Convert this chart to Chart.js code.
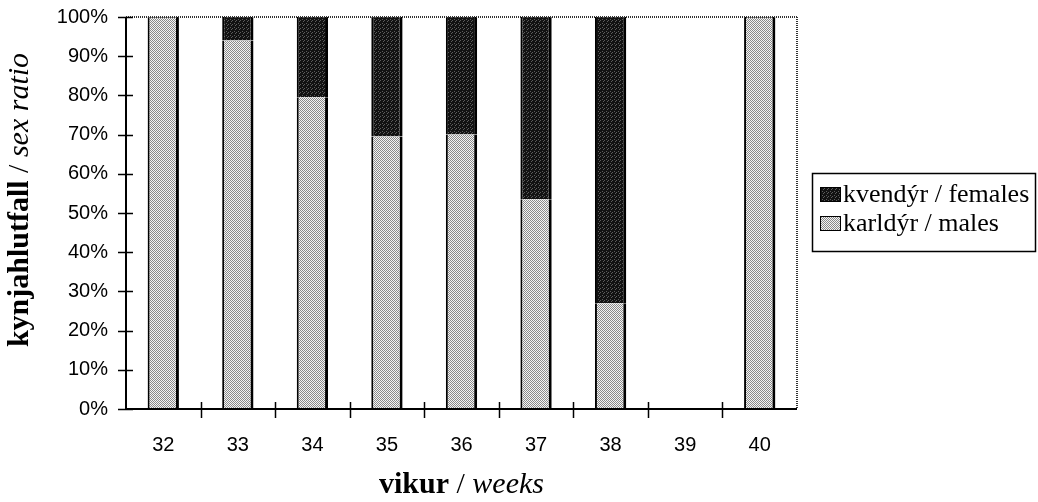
<!DOCTYPE html>
<html>
<head>
<meta charset="utf-8">
<script src="https://cdn.jsdelivr.net/npm/chart.js@4/dist/chart.umd.min.js"></script>
<style>
  html, body { margin: 0; padding: 0; background: #fff; }
</style>
</head>
<body>
<canvas id="sexRatio" width="1038" height="502"></canvas>
<script>
// data
const weeks = ['32', '33', '34', '35', '36', '37', '38', '39', '40'];
const males = [100, 94, 79.5, 69.5, 70, 53.5, 27, null, 100];
const females = [0, 6, 20.5, 30.5, 30, 46.5, 73, null, 0];
const seriesNames = ['karldýr / males', 'kvendýr / females'];
const yTitle = ['kynjahlutfall', ' / ', 'sex ratio'];
const xTitle = ['vikur', ' / ', 'weeks'];

const SANS = '"Liberation Sans", Arial, sans-serif';
const SERIF = '"Liberation Serif", "Times New Roman", serif';

const canvas = document.getElementById('sexRatio');
const ctx = canvas.getContext('2d');

// little dithered fills, like the printed screen tones
const makePattern = (dark) => {
    const c = document.createElement('canvas');
    c.width = 4; c.height = 4;
    const g = c.getContext('2d');
    for (let y = 0; y < 4; y++) {
        for (let x = 0; x < 4; x++) {
            if (dark) {
                g.fillStyle = ((x * 3 + y * 5) % 7 === 0) ? '#5c5c5c' : '#121212';
            } else {
                g.fillStyle = ((x + y) % 2 === 0) ? '#8a8a8a' : '#f4f4f4';
            }
            g.fillRect(x, y, 1, 1);
        }
    }
    return ctx.createPattern(c, 'repeat');
};
const lightFill = makePattern(false);
const darkFill = makePattern(true);

// bold + plain + italic on one line, centred on cx
const drawMixed = (g, parts, cx, cy, size) => {
    const fonts = ['bold ' + size + 'px ' + SERIF, size + 'px ' + SERIF, 'italic ' + size + 'px ' + SERIF];
    const widths = parts.map((p, i) => { g.font = fonts[i]; return g.measureText(p).width; });
    const total = widths.reduce((a, b) => a + b, 0);
    let x = cx - total / 2;
    parts.forEach((p, i) => {
        g.font = fonts[i];
        g.fillText(p, x, cy);
        x += widths[i];
    });
};

const framePlugin = {
    id: 'frame',
    afterDatasetsDraw(chart) {
        const g = chart.ctx;
        const a = chart.chartArea;
        const xs = chart.scales.x;
        const ys = chart.scales.y;
        g.save();

        // dotted top and right edges of the plot
        g.strokeStyle = '#333';
        g.lineWidth = 2;
        g.setLineDash([1, 1]);
        g.beginPath();
        g.moveTo(a.left, a.top); g.lineTo(a.right, a.top);
        g.moveTo(a.right, a.top); g.lineTo(a.right, a.bottom);
        g.stroke();
        g.setLineDash([]);

        // solid axes
        g.strokeStyle = '#000';
        g.lineWidth = 2;
        g.beginPath();
        g.moveTo(a.left, a.top); g.lineTo(a.left, a.bottom + 1);
        g.moveTo(a.left - 1, a.bottom); g.lineTo(a.right, a.bottom);
        g.stroke();

        // y ticks crossing the axis
        g.lineWidth = 1.5;
        g.beginPath();
        ys.ticks.forEach((t) => {
            const y = Math.round(ys.getPixelForValue(t.value)) + 0.5;
            g.moveTo(a.left - 8, y); g.lineTo(a.left + 7, y);
        });
        // x ticks between categories
        for (let i = 0; i < weeks.length - 1; i++) {
            const x = Math.round((xs.getPixelForTick(i) + xs.getPixelForTick(i + 1)) / 2) + 0.5;
            g.moveTo(x, a.bottom - 7); g.lineTo(x, a.bottom + 9);
        }
        g.stroke();

        // axis titles
        g.fillStyle = '#000';
        g.textBaseline = 'middle';
        g.save();
        g.translate(20, 200);
        g.rotate(-Math.PI / 2);
        drawMixed(g, yTitle, 0, 0, 30);
        g.restore();
        g.textBaseline = 'alphabetic';
        drawMixed(g, xTitle, (a.left + a.right) / 2, 493, 30);

        // legend, females listed first
        const lx = a.right + 15;
        const ly = 173;
        g.lineWidth = 1.5;
        g.strokeStyle = '#000';
        g.strokeRect(lx + 0.5, ly + 0.5, 223, 78);
        const order = [1, 0];
        order.forEach((di, row) => {
            const ds = chart.data.datasets[di];
            const top = ly + 14 + row * 29;
            g.fillStyle = ds.backgroundColor;
            g.fillRect(lx + 8, top, 21, 15);
            g.lineWidth = 1;
            g.strokeRect(lx + 8.5, top + 0.5, 20, 14);
            g.fillStyle = '#000';
            g.font = '26px ' + SERIF;
            g.fillText(ds.label, lx + 31, top + 15);
        });
        g.restore();
    }
};

const barStyle = {
    borderColor: '#000',
    borderWidth: {left: 2, right: 3, top: 0, bottom: 0},
    borderSkipped: false,
    barPercentage: 0.42,
    categoryPercentage: 1
};

new Chart(ctx, {
    type: 'bar',
    data: {
        labels: weeks,
        datasets: [
            Object.assign({label: seriesNames[0], data: males, backgroundColor: lightFill}, barStyle),
            Object.assign({label: seriesNames[1], data: females, backgroundColor: darkFill}, barStyle)
        ]
    },
    options: {
        responsive: false,
        animation: false,
        layout: {padding: {left: 0, right: 241, top: 17, bottom: 0}},
        plugins: {legend: {display: false}, tooltip: {enabled: false}},
        scales: {
            x: {
                stacked: true,
                grid: {display: false, drawTicks: false},
                border: {display: false},
                ticks: {color: '#000', font: {family: SANS, size: 20}, padding: 24, maxRotation: 0},
                afterFit(s) { s.height = 93; s.paddingLeft = 0; s.paddingRight = 0; }
            },
            y: {
                stacked: true,
                min: 0,
                max: 100,
                grid: {display: false, drawTicks: false},
                border: {display: false},
                ticks: {stepSize: 10, color: '#000', font: {family: SANS, size: 20}, padding: 18,
                    callback: (v) => v + '%'},
                afterFit(s) { s.width = 126; s.paddingTop = 0; s.paddingBottom = 0; }
            }
        }
    },
    plugins: [framePlugin]
});
</script>
</body>
</html>
